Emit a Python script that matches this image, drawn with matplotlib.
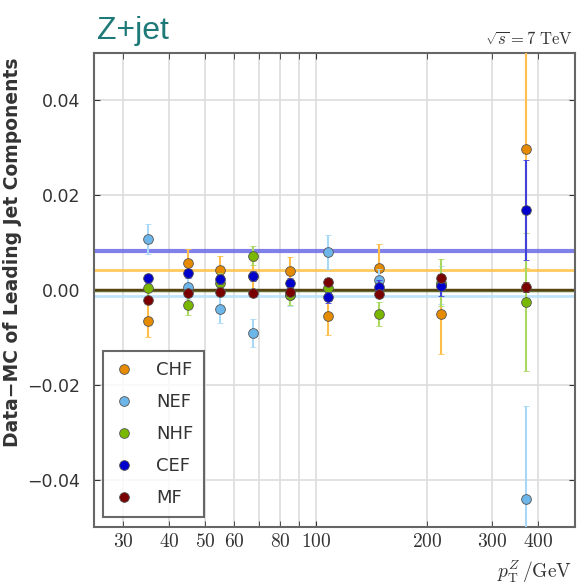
import matplotlib
matplotlib.use("Agg")
import matplotlib.pyplot as plt
from matplotlib.lines import Line2D
from matplotlib.ticker import FixedLocator, FixedFormatter

plt.rcParams['mathtext.fontset'] = 'cm'

# bin centres in pT (GeV)
pt = [35, 45, 55, 67.5, 85, 108, 148, 218, 372]

names = ['CHF', 'NEF', 'NHF', 'CEF', 'MF']

chf = [-0.0065, 0.0057, 0.0041, 0.0030, 0.0039, -0.0055, 0.0046, -0.0051, 0.0297]
chf_err = [0.0035, 0.0030, 0.0030, 0.0030, 0.0030, 0.0040, 0.0050, 0.0085, 0.0250]

nef = [0.0107, 0.0006, -0.0041, -0.0091, -0.0010, 0.0080, 0.0020, 0.0010, -0.0441]
nef_err = [0.0032, 0.0025, 0.0028, 0.0029, 0.0025, 0.0036, 0.0025, 0.0040, 0.0197]

nhf = [0.0004, -0.0032, 0.0015, 0.0072, -0.0011, 0.0004, -0.0051, 0.0015, -0.0026]
nhf_err = [0.0020, 0.0020, 0.0020, 0.0020, 0.0020, 0.0020, 0.0025, 0.0050, 0.0145]

cef = [0.0024, 0.0035, 0.0022, 0.0029, 0.0014, -0.0016, 0.0006, 0.0008, 0.0168]
cef_err = [0.0010, 0.0010, 0.0010, 0.0010, 0.0010, 0.0012, 0.0015, 0.0020, 0.0105]

mf = [-0.0021, -0.0006, -0.0005, -0.0007, -0.0005, 0.0016, -0.0008, 0.0025, 0.0006]
mf_err = [0.0005, 0.0005, 0.0005, 0.0005, 0.0005, 0.0005, 0.0006, 0.0008, 0.0010]

# fitted constant levels
mean_vals = [0.0041, -0.0012, 0.0000, 0.0082, 0.0000]

vals = [chf, nef, nhf, cef, mf]
errs = [chf_err, nef_err, nhf_err, cef_err, mf_err]
face = ['#e68a00', '#6cb6ea', '#7ab800', '#0000cc', '#7a0000']
ecol = ['#ffbe4a', '#a8d8f8', '#a8d860', '#4040dd', '#7a0000']
lcol = ['#ffc040', '#b8e0fa', '#4a5a10', '#6a6ae8', '#5a3a10']
lw = [2.0, 2.0, 2.5, 3.0, 1.5]

fig = plt.figure(figsize=(5.77, 5.85), dpi=100)
ax = fig.add_axes([0.163, 0.099, 0.834, 0.811])

for i in range(5):
    ax.axhline(mean_vals[i], color=lcol[i], lw=lw[i], alpha=0.85, zorder=2)

handles = []
for i in range(5):
    ax.errorbar(pt, vals[i], yerr=errs[i], fmt='o', color=face[i], ecolor=ecol[i],
                elinewidth=1.5, capsize=2, markersize=7, markeredgecolor='#555555',
                markeredgewidth=0.6, zorder=3 + i)
    handles.append(Line2D([], [], ls='', marker='o', color=face[i], markersize=7,
                          markeredgecolor='#555555', markeredgewidth=0.6, label=names[i]))

ax.set_xscale('log')
ax.set_xlim(25, 505)
ax.set_ylim(-0.05, 0.05)

ax.xaxis.set_major_locator(FixedLocator([100]))
ax.xaxis.set_minor_locator(FixedLocator([30, 40, 50, 60, 70, 80, 90, 200, 300, 400]))
ax.xaxis.set_major_formatter(FixedFormatter([r'$100$']))
ax.xaxis.set_minor_formatter(FixedFormatter([r'$30$', r'$40$', r'$50$', r'$60$', '', r'$80$', '',
                                             r'$200$', r'$300$', r'$400$']))
ax.set_yticks([-0.04, -0.02, 0.0, 0.02, 0.04])
ax.set_yticklabels(['\u22120.04', '\u22120.02', '0.00', '0.02', '0.04'])
ax.tick_params(axis='y', labelsize=12.5, direction='in', length=4, right=True,
               pad=10, colors='#333333')
ax.tick_params(axis='x', which='both', labelsize=14, direction='in', length=4, top=True,
               colors='#333333')

ax.grid(True, which='both', color='#dddddd', lw=1.2, zorder=0)
ax.set_axisbelow(True)
for s in ax.spines.values():
    s.set_color('#666666')
    s.set_linewidth(1.5)

ax.set_ylabel('Data\u2212MC of Leading Jet Components', fontsize=13.5, fontweight='bold',
              color='#333333')
ax.yaxis.set_label_coords(-0.15, 0.58)
ax.set_xlabel(r'$p_\mathrm{T}^Z\,/\mathrm{GeV}$', fontsize=14, color='#333333')
ax.xaxis.label.set_va('center')
ax.xaxis.label.set_ha('right')
ax.xaxis.set_label_coords(0.993, -0.095)

fig.text(0.168, 0.933, 'Z+jet', fontsize=23, color='#1e7a78', ha='left', va='baseline',
         family='Liberation Sans')
fig.text(0.993, 0.932, r'$\sqrt{s}=7\ \mathrm{TeV}$', fontsize=12, color='#333333',
         ha='right', va='center')

leg = ax.legend(handles=handles, loc='lower left', fontsize=13, labelspacing=0.78,
                handlelength=1.2, handletextpad=1.2, borderpad=0.55, fancybox=False,
                borderaxespad=0, bbox_to_anchor=(0.019, 0.021))
leg.get_frame().set_edgecolor('#444444')
leg.get_frame().set_linewidth(1.5)
for t in leg.get_texts():
    t.set_color('#333333')

fig.savefig('out.png', dpi=100)
